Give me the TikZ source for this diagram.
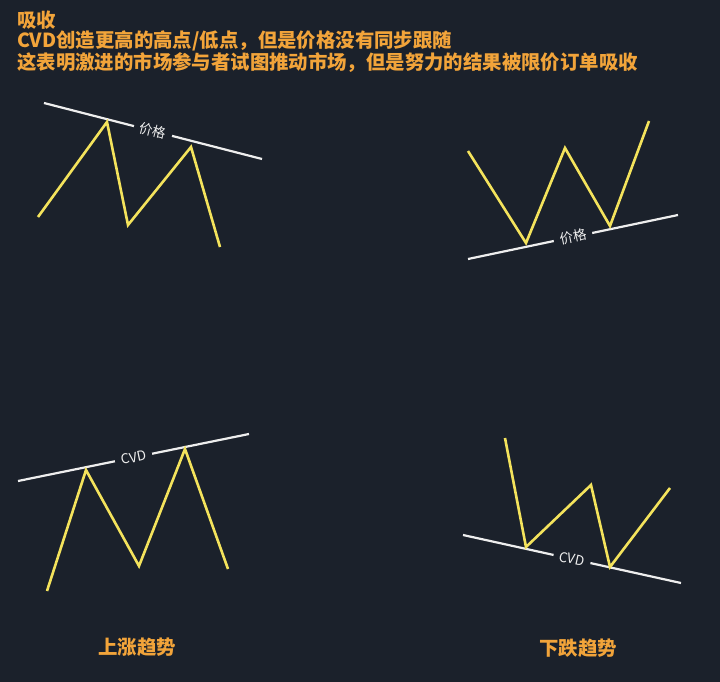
\documentclass[tikz,border=0pt]{standalone}
\usepackage{fontspec}
\usepackage{xcolor}
\usepackage{tikz}
\newfontfamily\cjk{Noto Sans CJK SC}
\definecolor{bgdark}{HTML}{1B212B}
\definecolor{zigyellow}{HTML}{F4E35C}
\definecolor{titleorange}{HTML}{F2A43A}
\definecolor{levelwhite}{HTML}{EEEEEE}
\tikzset{
    zig/.style={draw=zigyellow,line width=2.6pt,line join=miter},
    level/.style={draw=levelwhite,line width=2.2pt},
    lvllabel/.style={midway,sloped,fill=bgdark,text=levelwhite,font=\cjk\fontsize{13.5}{14}\selectfont,inner xsep=6pt,inner ysep=1pt},
    caption/.style={text=titleorange,font=\cjk\bfseries\fontsize{19.4}{20}\selectfont,inner sep=0pt}
}

\begin{document}
\begin{tikzpicture}[x=1pt,y=-1pt]
    \fill[bgdark] (0,0) rectangle (720,682);
    \node[caption,anchor=north west,align=left] (title) at (17,11)
        {吸收\\CVD创造更高的高点/低点，但是价格没有同步跟随\\这表明激进的市场参与者试图推动市场，但是努力的结果被限价订单吸收};

    % price, upper left
    \foreach \p/\x/\y in {pa1/38/217, pa2/107/122, pa3/128/225, pa4/191/147, pa5/220/247, pal/44/103, par/262/159}
        \coordinate (\p) at (\x,\y);
    \draw[level] (pal) -- node[lvllabel] (palab) {价格} (par);
    \draw[zig] (pa1) -- (pa2) -- (pa3) -- (pa4) -- (pa5);

    % price, upper right
    \foreach \p/\x/\y in {pb1/468/151, pb2/526/243, pb3/565/148, pb4/610/226, pb5/649/121, pbl/468/259, pbr/678/215}
        \coordinate (\p) at (\x,\y);
    \draw[level] (pbl) -- node[lvllabel] (pblab) {价格} (pbr);
    \draw[zig] (pb1) -- (pb2) -- (pb3) -- (pb4) -- (pb5);

    % cvd, lower left
    \foreach \p/\x/\y in {ca1/47/591, ca2/86/470, ca3/139/566, ca4/185/449, ca5/228/569, cal/18/481, car/249/434}
        \coordinate (\p) at (\x,\y);
    \draw[level] (cal) -- node[lvllabel] (calab) {CVD} (car);
    \draw[zig] (ca1) -- (ca2) -- (ca3) -- (ca4) -- (ca5);

    % cvd, lower right
    \foreach \p/\x/\y in {cb1/505/438, cb2/526/547, cb3/591/485, cb4/610/567, cb5/670/488, cbl/463/535, cbr/681/583}
        \coordinate (\p) at (\x,\y);
    \draw[level] (cbl) -- node[lvllabel] (cblab) {CVD} (cbr);
    \draw[zig] (cb1) -- (cb2) -- (cb3) -- (cb4) -- (cb5);

    \node[caption] (uptrend) at (137,647) {上涨趋势};
    \node[caption] (downtrend) at (578,648) {下跌趋势};
\end{tikzpicture}
\end{document}
